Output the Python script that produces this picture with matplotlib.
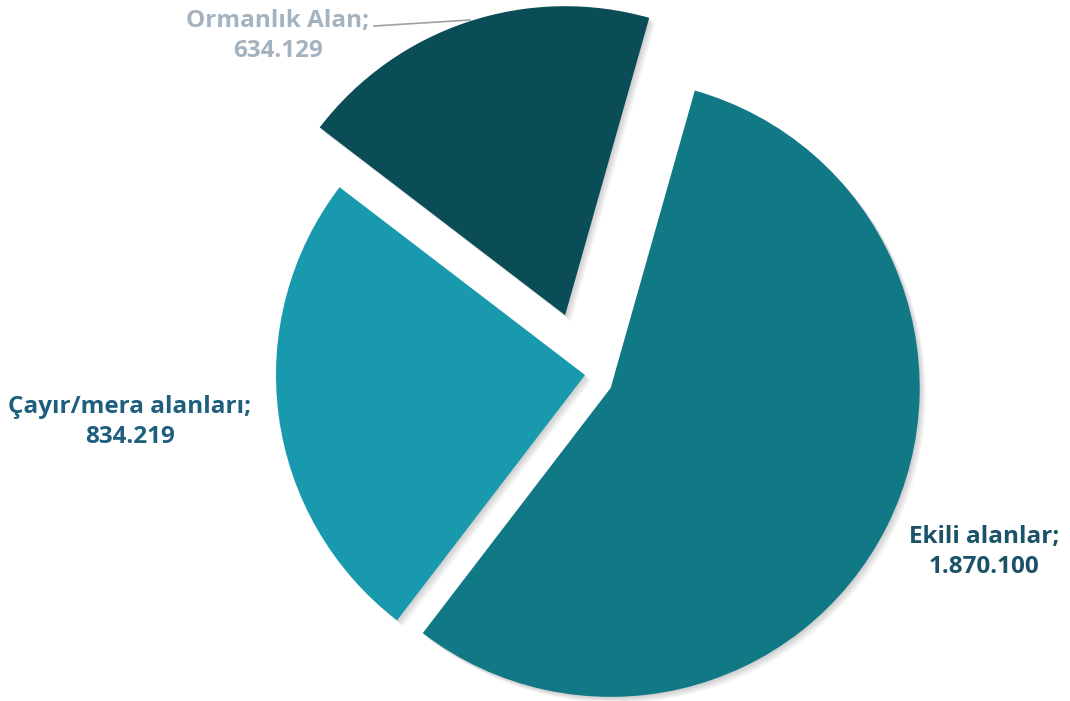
import matplotlib.pyplot as plt

# land use values
labels = ["Ekili alanlar", "Çayır/mera alanları", "Ormanlık Alan"]
values = [1870100, 834219, 634129]
value_text = ["1.870.100", "834.219", "634.129"]
colors = ["#117885", "#1899AD", "#0B4D57"]
label_colors = ["#1A5267", "#1E5F7E", "#A5B3BF"]
explode = [0.093, 0.0, 0.204]

plt.rcParams['font.family'] = ['Open Sans', 'DejaVu Sans']

W, H = 1070, 701
R = 309.0
CX, CY = 585, 375


def px(x, y):
    # pixel position -> data coords (pie radius = 1)
    return (x - CX) / R, (CY - y) / R


fig = plt.figure(figsize=(W / 100, H / 100), dpi=100)
ax = fig.add_axes([0, 0, 1, 1])

# soft shadow
for i in range(1, 9):
    ax.pie(values, explode=explode, startangle=74.2, counterclock=False,
           center=(i * 0.8 / R, -i * 0.8 / R), colors=['black'] * 3,
           wedgeprops=dict(alpha=0.025, linewidth=0), frame=True)

ax.pie(values, explode=explode, startangle=74.2, counterclock=False,
       colors=colors, wedgeprops=dict(linewidth=0), frame=True)

ax.set_xlim(-CX / R, (W - CX) / R)
ax.set_ylim(-(H - CY) / R, CY / R)
ax.set_aspect('equal')
ax.axis('off')

font = dict(fontsize=17.5, fontweight='bold', ha='center', va='center',
            linespacing=1.3)

ax.text(*px(984, 552), f"{labels[0]};\n{value_text[0]}", color=label_colors[0], **font)
ax.text(*px(130, 422), f"{labels[1]};\n{value_text[1]}", color=label_colors[1], **font)
ax.text(*px(278, 36), f"{labels[2]};\n{value_text[2]}", color=label_colors[2], **font)

# leader line for the forest slice
x0, y0 = px(374, 26)
x1, y1 = px(470, 20)
ax.plot([x0, x1], [y0, y1], color="#A0A0A0", lw=1.2)

fig.savefig("out.png", dpi=100)
